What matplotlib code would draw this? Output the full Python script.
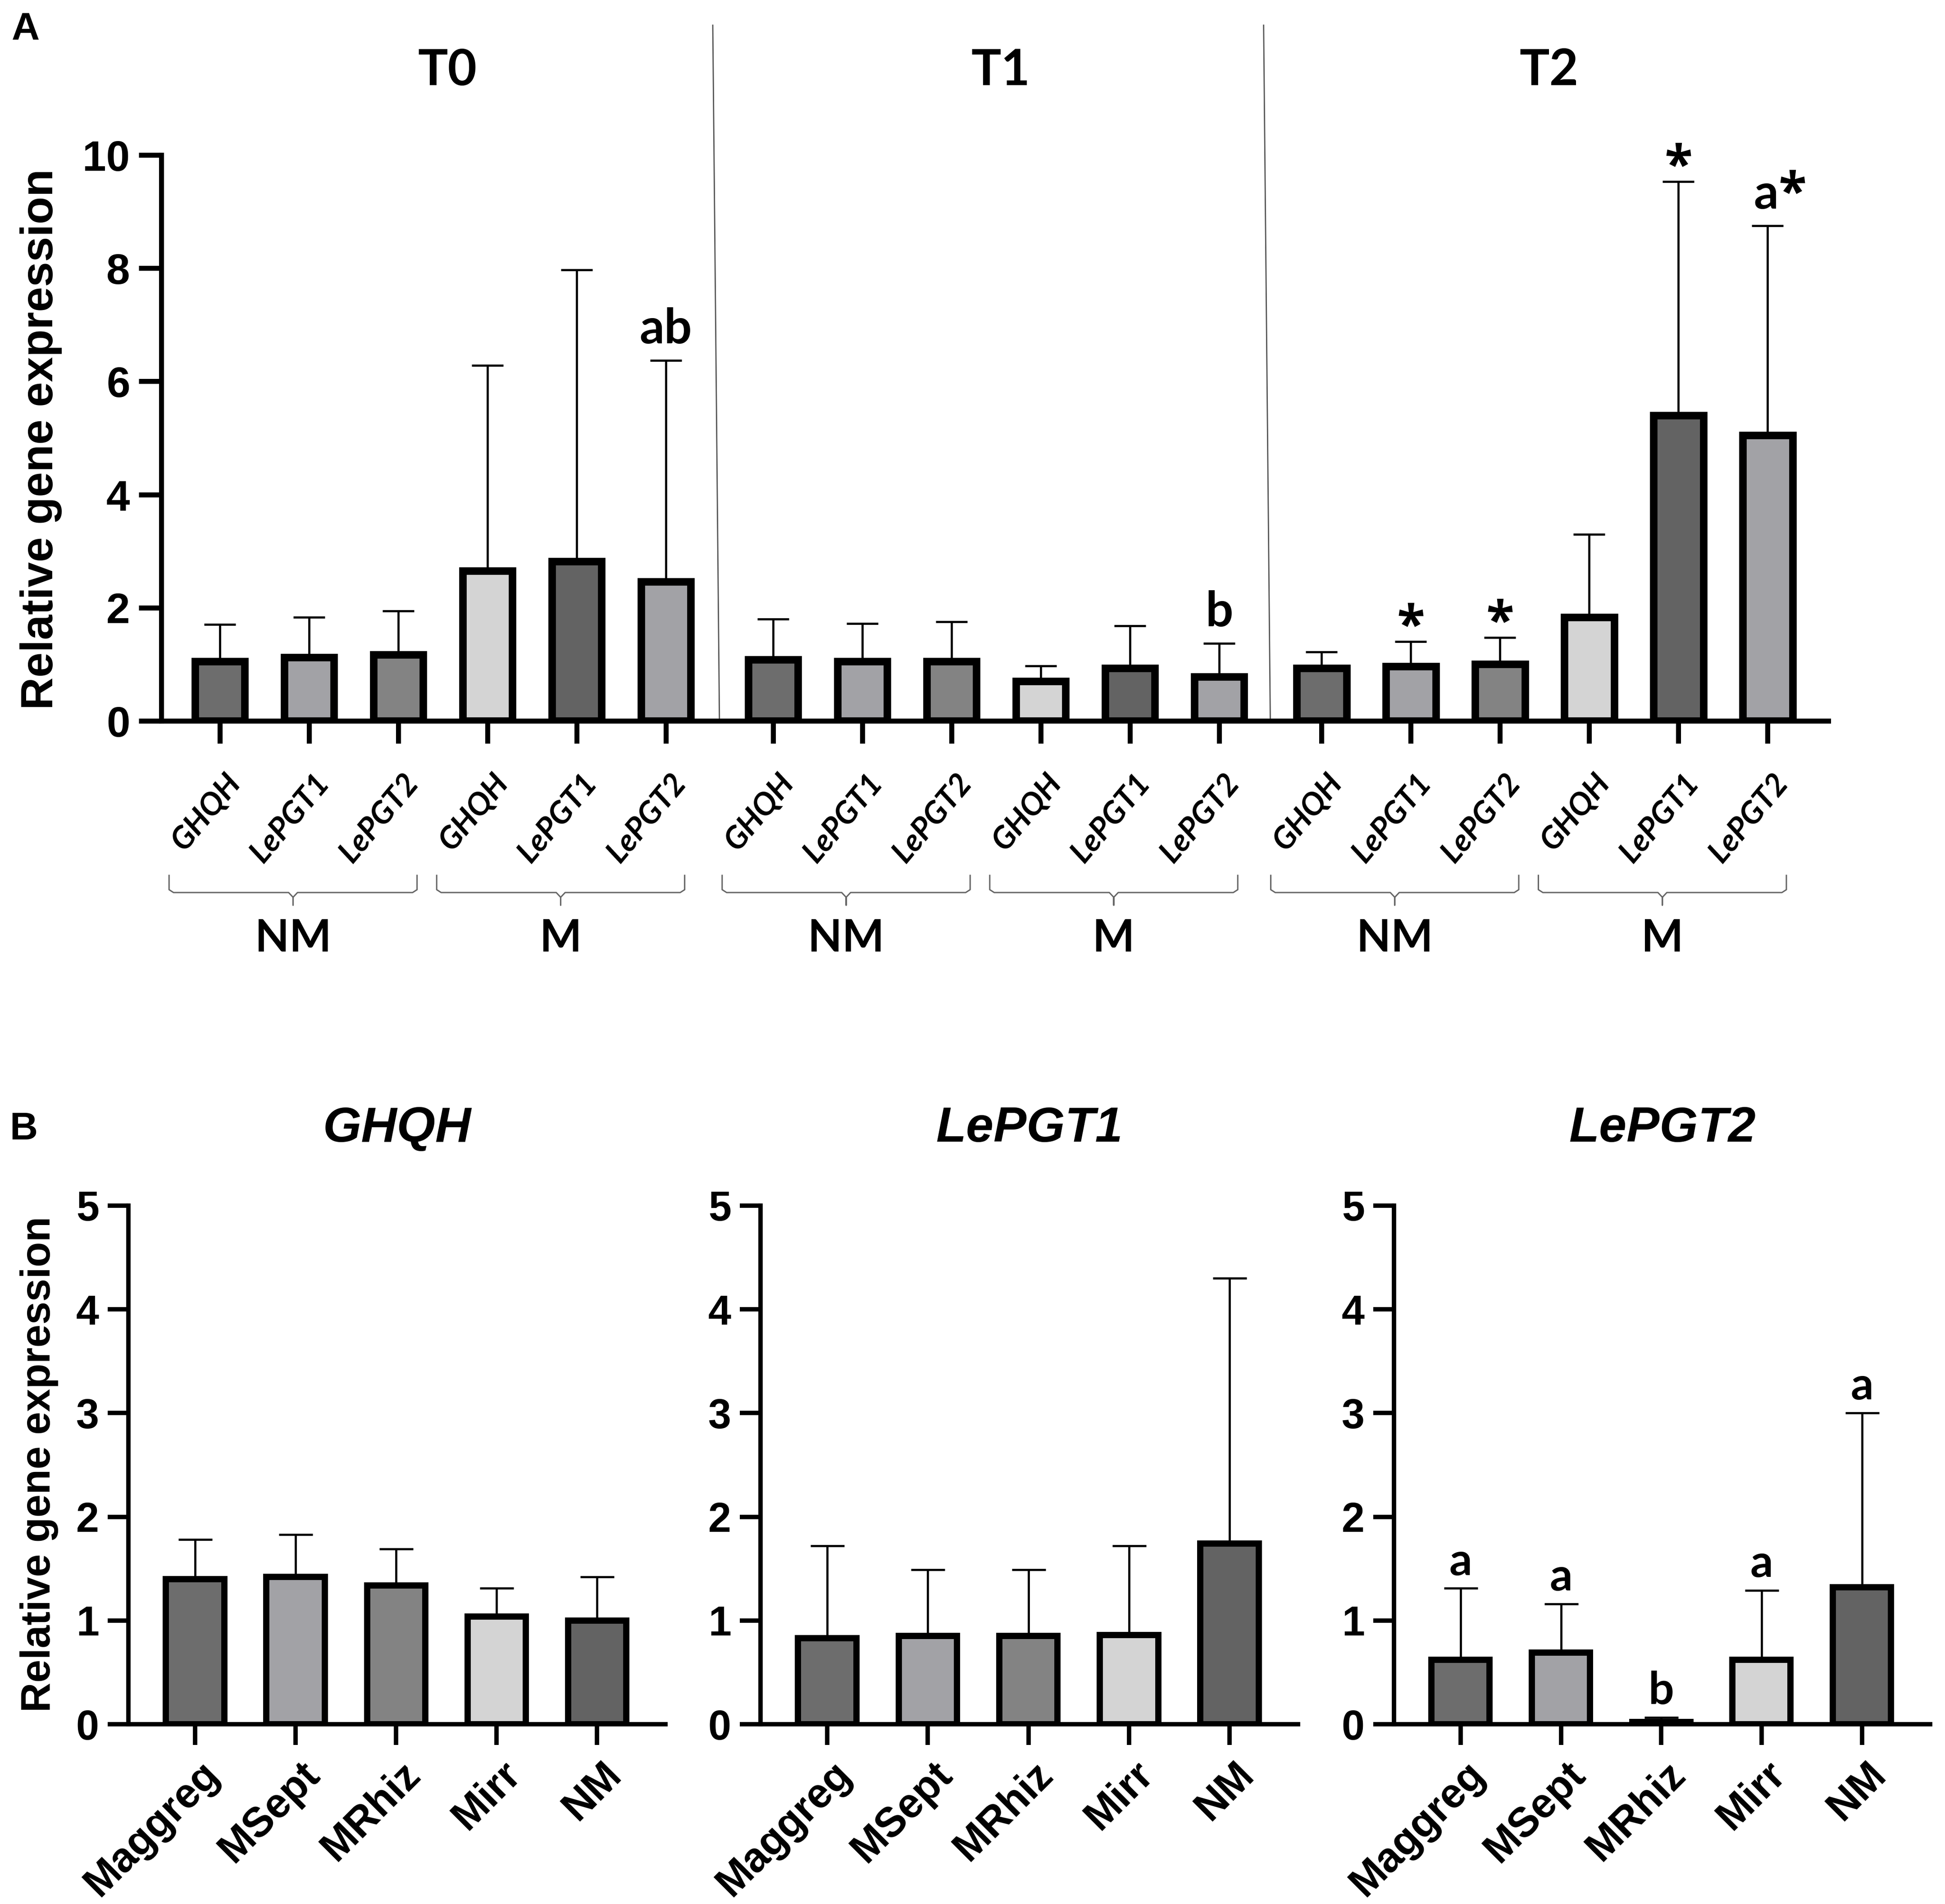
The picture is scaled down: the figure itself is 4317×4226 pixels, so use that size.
import numpy as np
import matplotlib
matplotlib.use("Agg")
import matplotlib.pyplot as plt
from matplotlib.transforms import blended_transform_factory

# ---------------- data ----------------
timepoints = ["T0", "T1", "T2"]
groups = ["NM", "M"]
genes = ["GHQH", "LePGT1", "LePGT2"]

t0_mean = [1.05, 1.12, 1.17, 2.65, 2.82, 2.46]
t0_upper = [1.70, 1.83, 1.94, 6.28, 7.97, 6.37]
t0_marks = ["", "", "", "", "", "ab"]

t1_mean = [1.08, 1.05, 1.05, 0.70, 0.93, 0.78]
t1_upper = [1.80, 1.72, 1.75, 0.97, 1.68, 1.37]
t1_marks = ["", "", "", "", "", "b"]

t2_mean = [0.93, 0.96, 1.00, 1.83, 5.40, 5.05]
t2_upper = [1.22, 1.40, 1.47, 3.30, 9.53, 8.75]
t2_marks = ["", "*", "*", "", "*", "a*"]

a_colors = ["#6d6d6d", "#a2a2a6", "#838383", "#d4d4d4", "#636363", "#a2a2a6"]

b_categories = ["Maggreg", "MSept", "MRhiz", "Mirr", "NM"]
b_titles = ["GHQH", "LePGT1", "LePGT2"]
ghqh_mean = [1.40, 1.42, 1.34, 1.04, 1.00]
ghqh_upper = [1.78, 1.83, 1.69, 1.31, 1.42]
ghqh_marks = ["", "", "", "", ""]
lepgt1_mean = [0.83, 0.85, 0.85, 0.86, 1.74]
lepgt1_upper = [1.72, 1.49, 1.49, 1.72, 4.30]
lepgt1_marks = ["", "", "", "", ""]
lepgt2_mean = [0.62, 0.69, 0.02, 0.62, 1.32]
lepgt2_upper = [1.31, 1.16, 0.066, 1.29, 3.00]
lepgt2_marks = ["a", "a", "b", "a", "a"]
b_colors = ["#6d6d6d", "#a2a2a6", "#838383", "#d4d4d4", "#636363"]

# ---------------- layout ----------------
W, H, DPI = 4317, 4226, 100
fig = plt.figure(figsize=(W / DPI, H / DPI), dpi=DPI)
fig.patch.set_facecolor("white")

ARIAL = "Liberation Sans"
CALIBRI = "Lato"
STARFONT = "Open Sans"


def fx(px):
    return px / W


def fy(py):
    return 1 - py / H


def draw_mark(ax, x, y_cap, mk, letter_off, star_off, size):
    letters = mk.replace("*", "")
    star = "*" in mk
    if letters and star:
        ax.text(x + 0.12, y_cap + letter_off, letters, ha="right",
                va="baseline", fontsize=size, fontfamily=CALIBRI,
                fontweight="bold", clip_on=False)
        ax.text(x + 0.12, y_cap + letter_off, "*", ha="left",
                va="baseline", fontsize=size * 1.05, fontfamily=STARFONT,
                fontweight="bold", clip_on=False)
    elif letters:
        ax.text(x, y_cap + letter_off, letters, ha="center", va="baseline",
                fontsize=size, fontfamily=CALIBRI, fontweight="bold",
                clip_on=False)
    else:
        ax.text(x, y_cap + star_off, "*", ha="center", va="baseline",
                fontsize=size * 1.05, fontfamily=STARFONT, fontweight="bold",
                clip_on=False)


# ======== Panel A ========
axA = fig.add_axes([fx(358), fy(1600), fx(4058 - 358), (1600 - 344) / H])
block_offsets = [0.0, 6.2, 12.35]
means = [t0_mean, t1_mean, t2_mean]
uppers = [t0_upper, t1_upper, t2_upper]
marks = [t0_marks, t1_marks, t2_marks]
all_pos = []
for bi in range(3):
    pos = block_offsets[bi] + np.arange(6)
    all_pos.append(pos)
    m = np.array(means[bi])
    u = np.array(uppers[bi])
    axA.errorbar(pos, m, yerr=[np.zeros_like(m), u - m], fmt="none",
                 ecolor="black", elinewidth=3.4, capsize=25, capthick=3.4,
                 zorder=1)
    axA.bar(pos, m, width=0.557, color=a_colors, edgecolor="black",
            linewidth=12, zorder=2)
    for p, uu, mk in zip(pos, u, marks[bi]):
        if mk:
            draw_mark(axA, p, uu, mk, 0.3, 0.0, 78)

posA = np.concatenate(all_pos)
axA.set_xlim(posA[0] - 0.657, posA[-1] + 0.68)
axA.set_ylim(0, 10)
axA.set_yticks(np.arange(0, 11, 2))
axA.set_xticks(posA)
axA.set_xticklabels([""] * len(posA))
for s in ["top", "right"]:
    axA.spines[s].set_visible(False)
for s in ["left", "bottom"]:
    axA.spines[s].set_linewidth(8)
axA.tick_params(axis="both", direction="out", length=36, width=8)
axA.tick_params(axis="y", pad=14, labelsize=68)
for lab in axA.get_yticklabels():
    lab.set_fontfamily(ARIAL)
    lab.set_fontweight("bold")

xtrA = axA.get_xaxis_transform()
gene_seq = genes * 2
for bi in range(3):
    for p, g in zip(all_pos[bi], gene_seq):
        axA.text(p + 0.17, -0.101, g, transform=xtrA, rotation=50,
                 rotation_mode="anchor", ha="right", va="center",
                 fontsize=50, fontfamily=CALIBRI, fontweight="bold",
                 fontstyle="italic", clip_on=False)

bt = blended_transform_factory(axA.transData, fig.transFigure)

# titles
for bi, t in enumerate(timepoints):
    axA.text(all_pos[bi].mean() + 0.05, fy(189), t, transform=bt,
             ha="center", va="baseline", fontsize=80, fontfamily=CALIBRI,
             fontweight="bold")

# dividers
for bi in range(2):
    mid = (all_pos[bi][-1] + all_pos[bi + 1][0]) / 2
    axA.plot([mid - 0.075, mid], [fy(56), fy(1604)], transform=bt,
             color="#555555", lw=2, clip_on=False)

# brackets and group labels
y_end, y_bar, y_tip = fy(1943), fy(1981), fy(2009)
for bi in range(3):
    for gi, gname in enumerate(groups):
        p = all_pos[bi][gi * 3:(gi + 1) * 3]
        x0, x1 = p[0] - 0.57, p[-1] + 0.21
        xm = (x0 + x1) / 2
        d = 0.05
        xs = [x0, x0, x0 + d, xm - d, xm, xm, xm, xm + d, x1 - d, x1, x1]
        ys = [y_end, y_bar + 0.0015, y_bar, y_bar, y_bar - 0.0025, y_tip,
              y_bar - 0.0025, y_bar, y_bar, y_bar + 0.0015, y_end]
        axA.plot(xs, ys, transform=bt, color="#666666", lw=2.2,
                 clip_on=False, solid_joinstyle="round")
        axA.text(xm, fy(2112), gname, transform=bt, ha="center",
                 va="baseline", fontsize=71, fontfamily=CALIBRI,
                 fontweight="bold")

fig.text(fx(91), fy(975), "Relative gene expression", rotation=90,
         ha="center", va="center", fontsize=72, fontfamily=ARIAL,
         fontweight="bold")
fig.text(fx(57), fy(66), "A", ha="center", va="center", fontsize=62,
         fontfamily=ARIAL, fontweight="bold")

# ======== Panel B ========
b_means = [ghqh_mean, lepgt1_mean, lepgt2_mean]
b_uppers = [ghqh_upper, lepgt1_upper, lepgt2_upper]
b_marks = [ghqh_marks, lepgt1_marks, lepgt2_marks]
b_lefts = [285, 1688, 3094]
b_rights = [1477, 2881, 4284]
for k in range(3):
    ax = fig.add_axes([fx(b_lefts[k]), fy(3827), fx(b_rights[k] - b_lefts[k]),
                       (3827 - 2676) / H])
    pos = np.arange(len(b_categories))
    m = np.array(b_means[k])
    u = np.array(b_uppers[k])
    ax.errorbar(pos, m, yerr=[np.zeros_like(m), u - m], fmt="none",
                ecolor="black", elinewidth=3.4, capsize=27, capthick=3.4,
                zorder=1)
    ax.bar(pos, m, width=0.58, color=b_colors, edgecolor="black",
           linewidth=10, zorder=2)
    for p, uu, mk in zip(pos, u, b_marks[k]):
        if mk:
            draw_mark(ax, p, uu, mk, 0.13, 0.0, 72)
    ax.set_xlim(-0.664, 4.68)
    ax.set_ylim(0, 5)
    ax.set_yticks(np.arange(0, 6, 1))
    ax.set_xticks(pos)
    ax.set_xticklabels([""] * len(pos))
    for s in ["top", "right"]:
        ax.spines[s].set_visible(False)
    for s in ["left", "bottom"]:
        ax.spines[s].set_linewidth(7)
    ax.tick_params(axis="both", direction="out", length=33, width=7)
    ax.tick_params(axis="y", pad=14, labelsize=66)
    for lab in ax.get_yticklabels():
        lab.set_fontfamily(ARIAL)
        lab.set_fontweight("bold")
    xtr = ax.get_xaxis_transform()
    for p, c in zip(pos, b_categories):
        ax.text(p + 0.18, -0.085, c, transform=xtr, rotation=45,
                rotation_mode="anchor", ha="right", va="center",
                fontsize=66, fontfamily=ARIAL, fontweight="bold",
                clip_on=False)
    ax.text(0.5, 1.123, b_titles[k], transform=ax.transAxes, ha="center",
            va="baseline", fontsize=79, fontfamily=ARIAL, fontweight="bold",
            fontstyle="italic")

fig.text(fx(87), fy(3250), "Relative gene expression", rotation=90,
         ha="center", va="center", fontsize=66, fontfamily=ARIAL,
         fontweight="bold")
fig.text(fx(52), fy(2507), "B", ha="center", va="center", fontsize=62,
         fontfamily=ARIAL, fontweight="bold")

fig.savefig("out.png", dpi=DPI, facecolor="white")
